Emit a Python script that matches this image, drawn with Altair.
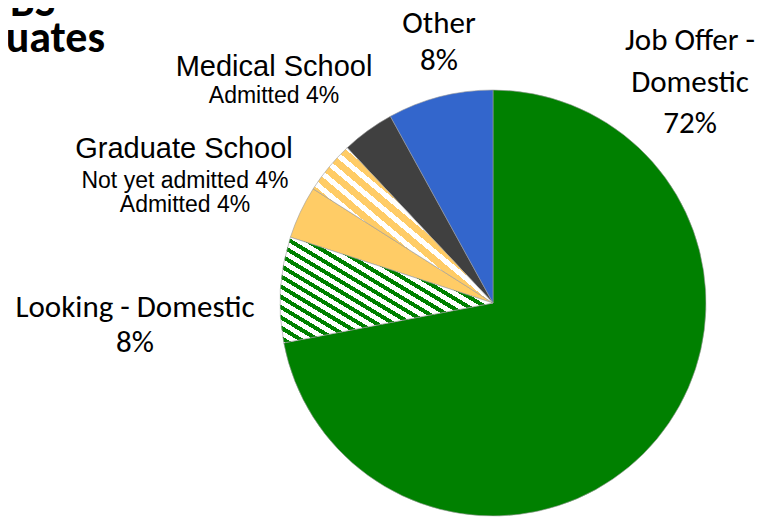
import math
import altair as alt
import pandas as pd

# ---------------- data ----------------
categories = [
    "Job Offer - Domestic",
    "Looking - Domestic",
    "Graduate School - Admitted",
    "Graduate School - Not yet admitted",
    "Medical School - Admitted",
    "Other",
]
values = [72, 8, 4, 4, 4, 8]
hatched = [False, True, False, True, False, False]
colors = ["#008000", "#008000", "#FFCC66", "#FFCC66", "#404040", "#3366CC"]

df = pd.DataFrame({
    "category": categories,
    "value": values,
    "order": list(range(len(categories))),
    "hatch": hatched,
})

# ---------------- layout / style ----------------
W, H = 756, 509
CX, CY = 485, 295
R = 213
STROKE = "#9a9a9a"

CAL = "Carlito, Lato, sans-serif"
ARI = "Liberation Sans, Arial, sans-serif"


def hatch_gradient(a0, a1, color, angle_deg, period, line_w):
    pts = [(0.0, 0.0)]
    for i in range(401):
        a = math.radians(a0 + (a1 - a0) * i / 400)
        pts.append((R * math.sin(a), -R * math.cos(a)))
    xs = [p[0] for p in pts]
    ys = [p[1] for p in pts]
    w = max(xs) - min(xs)
    h = max(ys) - min(ys)
    t = math.radians(angle_deg)
    nx, ny = -math.sin(t), math.cos(t)
    gx, gy = nx * w, ny * h
    u1 = 0.0 if gx > 0 else 1.0
    v1 = 0.0 if gy > 0 else 1.0
    rn = abs(gx) + abs(gy)
    lam = rn / (gx * gx + gy * gy)
    x2 = u1 + lam * gx
    y2 = v1 + lam * gy
    stops = []
    n = int(rn / period) + 2
    for k in range(n):
        o0 = min(1.0, k * period / rn)
        o1 = min(1.0, (k * period + line_w) / rn)
        o2 = min(1.0, (k + 1) * period / rn)
        stops += [
            {"offset": o0, "color": color},
            {"offset": o1, "color": color},
            {"offset": o1, "color": "#ffffff"},
            {"offset": o2, "color": "#ffffff"},
        ]
        if o2 >= 1.0:
            break
    return {"gradient": "linear", "x1": u1, "y1": v1, "x2": x2, "y2": y2,
            "stops": stops}


cum = [sum(values[:i]) for i in range(len(values) + 1)]
ang = [c * 3.6 for c in cum]

theta = alt.Theta("start:Q", scale=alt.Scale(domain=[0, 100], range=[0, 2 * math.pi]))
theta2 = alt.Theta2("cum:Q")

base = (
    alt.Chart(df)
    .transform_window(cum="sum(value)", sort=[alt.SortField("order")], frame=[None, 0])
    .transform_calculate(start="datum.cum - datum.value")
)

solid = base.transform_filter("!datum.hatch").mark_arc(
    radius=R, stroke=STROKE, strokeWidth=0.6
).encode(
    theta=theta, theta2=theta2,
    x=alt.value(CX), y=alt.value(CY),
    fill=alt.Fill("category:N", scale=alt.Scale(domain=categories, range=colors), legend=None),
)

g_green = hatch_gradient(ang[1], ang[2], "#008000", 31, 8.8, 4.0)
g_yellow = hatch_gradient(ang[3], ang[4], "#FFCC66", 40, 12.0, 6.8)

hatch_green = base.transform_filter(alt.datum.category == categories[1]).mark_arc(
    radius=R, stroke=STROKE, strokeWidth=0.6, fill=g_green
).encode(theta=theta, theta2=theta2, x=alt.value(CX), y=alt.value(CY))

hatch_yellow = base.transform_filter(alt.datum.category == categories[3]).mark_arc(
    radius=R, stroke=STROKE, strokeWidth=0.6, fill=g_yellow
).encode(theta=theta, theta2=theta2, x=alt.value(CX), y=alt.value(CY))


def txt(text, x, y, size, font, weight="normal", align="center"):
    return alt.Chart(df).mark_text(
        text=text, fontSize=size, font=font, fontWeight=weight, align=align,
        baseline="alphabetic", color="#000000"
    ).encode(x=alt.value(x), y=alt.value(y)).transform_filter("datum.order == 0")


labels = [
    txt("BS", 2, 8, 44, CAL, "bold", "left"),
    txt("Graduates", 97, 44, 44, CAL, "bold", "right"),
    txt("Other", 431, 25, 31, CAL),
    txt(f"{values[5]}%", 431, 62, 31, CAL),
    txt("Job Offer -", 682, 42, 31, CAL),
    txt("Domestic", 682, 84, 31, CAL),
    txt(f"{values[0]}%", 682, 125, 31, CAL),
    txt("Looking - Domestic", 127, 309, 31, CAL),
    txt(f"{values[1]}%", 127, 344, 31, CAL),
    txt("Medical School", 266, 68, 29, ARI),
    txt(f"Admitted {values[4]}%", 266, 95, 23, ARI),
    txt("Graduate School", 176, 150, 29, ARI),
    txt(f"Not yet admitted {values[3]}%", 177, 180, 23, ARI),
    txt(f"Admitted {values[2]}%", 177, 204, 23, ARI),
]

chart = alt.layer(solid, hatch_green, hatch_yellow, *labels).properties(
    width=W, height=H, padding=0, autosize="none"
).configure_view(stroke=None)

chart.save("out.html", embed_options={"renderer": "svg", "actions": False})
